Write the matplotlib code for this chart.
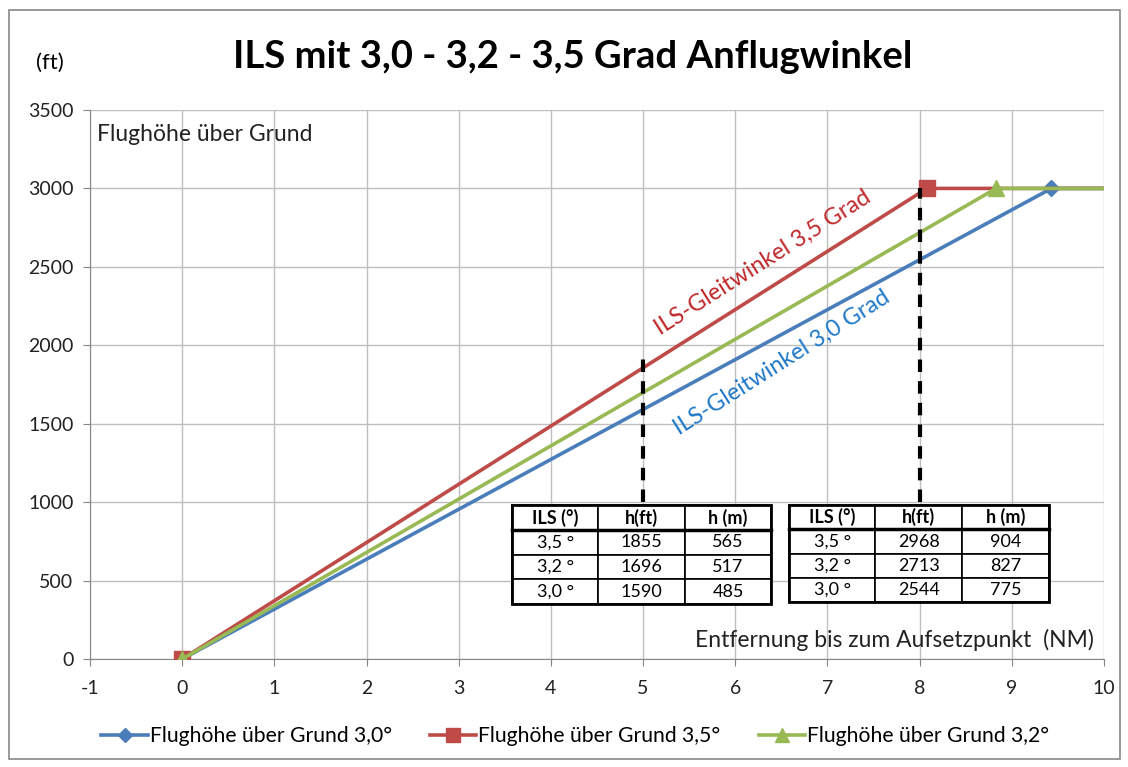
import matplotlib.pyplot as plt
from matplotlib.patches import Rectangle

plt.rcParams['font.family'] = ['Lato', 'DejaVu Sans']
plt.rcParams['axes.unicode_minus'] = False

# glide path points (NM, ft); last point lies beyond the axis and is clipped
x_30 = [0, 9.43, 11]
y_30 = [0, 3000, 3000]
x_35 = [0, 8.08, 11]
y_35 = [0, 3000, 3000]
x_32 = [0, 8.83, 11]
y_32 = [0, 3000, 3000]

marks_x = [5, 8]
marks_top = [1940, 3000]
marks_bottom = [1000, 1000]

tab_header = ["ILS (°)", "h(ft)", "h (m)"]
tab_5nm = [["3,5 °", "1855", "565"], ["3,2 °", "1696", "517"], ["3,0 °", "1590", "485"]]
tab_8nm = [["3,5 °", "2968", "904"], ["3,2 °", "2713", "827"], ["3,0 °", "2544", "775"]]

blue = "#4A7EBB"
red = "#BE4B48"
green = "#98B954"

fig = plt.figure(figsize=(11.28, 7.67), dpi=100)
fig.patches.append(Rectangle((0.008, 0.01), 0.985, 0.977, transform=fig.transFigure,
                             fill=False, edgecolor="#888888", linewidth=1.2))
ax = fig.add_axes([0.0798, 0.1408, 0.8989, 0.7158])

ax.plot(x_30, y_30, color=blue, lw=2.6, marker="D", ms=8, markevery=[0, 1],
        label="Flughöhe über Grund 3,0°", zorder=3)
ax.plot(x_35, y_35, color=red, lw=2.6, marker="s", ms=11, markevery=[0, 1],
        label="Flughöhe über Grund 3,5°", zorder=3)
ax.plot(x_32, y_32, color=green, lw=2.6, marker="^", ms=11, markevery=[0, 1],
        label="Flughöhe über Grund 3,2°", zorder=3)

for x, t, b in zip(marks_x, marks_top, marks_bottom):
    ax.plot([x, x], [b, t], color="black", lw=3, ls=(0, (3, 2.2)), zorder=4)

ax.set_xlim(-1, 10)
ax.set_ylim(0, 3500)
ax.set_xticks(range(-1, 11))
ax.set_yticks(range(0, 3501, 500))
ax.grid(True, color="#BFBFBF", lw=1)
ax.set_axisbelow(True)
for s in ["top", "right"]:
    ax.spines[s].set_visible(False)
for s in ["left", "bottom"]:
    ax.spines[s].set_color("#868686")
ax.tick_params(direction="out", length=5, color="#868686", labelsize=14,
               labelcolor="#222222")
ax.tick_params(axis="x", pad=10)
ax.tick_params(axis="y", pad=7)

ax.text(0.007, 0.975, "Flughöhe über Grund", transform=ax.transAxes, fontsize=16.5,
        va="top", ha="left", color="#222222")
ax.text(0.99, 0.015, "Entfernung bis zum Aufsetzpunkt  (NM)", transform=ax.transAxes,
        fontsize=16.5, va="bottom", ha="right", color="#222222")
ax.text(6.3, 2530, "ILS-Gleitwinkel 3,5 Grad", color="#C0282A", fontsize=16.8,
        rotation=32.4, rotation_mode="anchor", ha="center", va="center")
ax.text(6.5, 1890, "ILS-Gleitwinkel 3,0 Grad", color="#1F78C8", fontsize=16.8,
        rotation=32.4, rotation_mode="anchor", ha="center", va="center")

fig.text(0.508, 0.926, "ILS mit 3,0 - 3,2 - 3,5 Grad Anflugwinkel", fontsize=27.5,
         fontweight="bold", ha="center", va="center")
fig.text(0.032, 0.918, "(ft)", fontsize=16, ha="left", va="center")


def draw_table(rows, box):
    tb = ax.table(cellText=rows, colLabels=tab_header, cellLoc="center",
                  bbox=box, zorder=5)
    tb.auto_set_font_size(False)
    for (r, c), cell in tb.get_celld().items():
        cell.set_linewidth(1.2)
        cell.set_facecolor("white")
        cell.get_text().set_fontsize(13)
        if r == 0:
            cell.get_text().set_fontweight("bold")
    x0, y0, w, h = box
    ax.plot([x0, x0 + w], [y0 + h * 0.75, y0 + h * 0.75], transform=ax.transAxes,
            color="black", lw=2.5, zorder=6, clip_on=False)
    ax.add_patch(Rectangle((x0, y0), w, h, transform=ax.transAxes, fill=False,
                           lw=2, edgecolor="black", zorder=6, clip_on=False))


draw_table(tab_5nm, [0.416, 0.100, 0.256, 0.180])
draw_table(tab_8nm, [0.689, 0.104, 0.257, 0.176])

fig.legend(loc="center", bbox_to_anchor=(0.51, 0.04), ncol=3, frameon=False,
           fontsize=15.2, handlelength=2.2, columnspacing=1.8, handletextpad=0.1,
           markerscale=0.9)

fig.savefig("out.png", dpi=100)
